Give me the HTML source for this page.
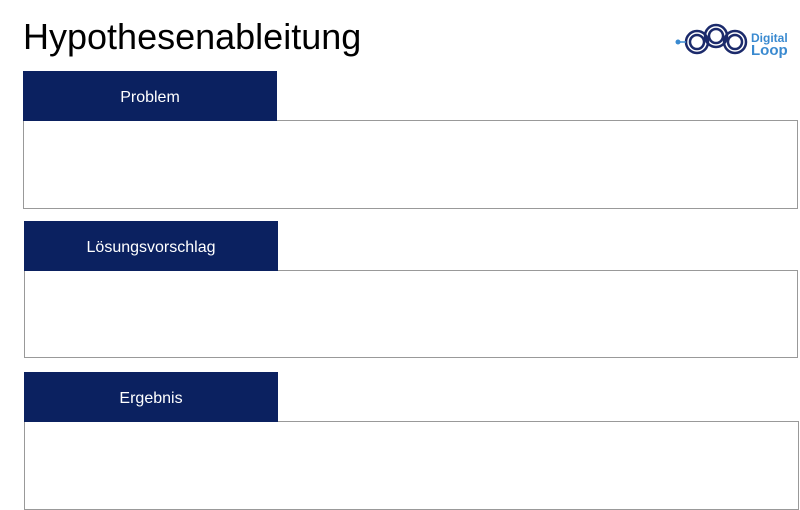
<!DOCTYPE html>
<html><head><style>
body{margin:0;width:800px;height:510px;background:#fff;position:relative;overflow:hidden;font-family:"Liberation Sans",sans-serif}
.t{position:absolute;left:23px;top:16px;font-size:36px;color:#000}
.h{position:absolute;background:#0b2160;color:#fff;font-size:16px;text-align:center;line-height:53px;width:254px;height:50px}
.b{position:absolute;border:1px solid #999;box-sizing:border-box}
</style></head><body>
<div class="t">Hypothesenableitung</div>
<svg style="position:absolute;left:672px;top:18px" width="128" height="42" viewBox="0 0 128 42">
<g fill="none" stroke="#1b2a6b" stroke-width="2.5">
<circle cx="25" cy="24" r="11"/><circle cx="44" cy="18" r="11"/><circle cx="63" cy="24" r="11"/>
<circle cx="25" cy="24" r="7"/><circle cx="44" cy="18" r="7"/><circle cx="63" cy="24" r="7"/>
</g>
<line x1="7" y1="24" x2="14" y2="24" stroke="#3a8ad0" stroke-width="1.5"/>
<circle cx="6" cy="24" r="2.5" fill="#3a8ad0"/>
<text x="79" y="24" font-size="12" font-weight="bold" fill="#3a8ad0" font-family="Liberation Sans">Digital</text>
<text x="79" y="37" font-size="15" font-weight="bold" fill="#3a8ad0" font-family="Liberation Sans">Loop</text>
</svg>
<div class="b" style="left:23px;top:120px;width:775px;height:89px"></div>
<div class="h" style="left:23px;top:71px">Problem</div>
<div class="b" style="left:24px;top:270px;width:774px;height:88px"></div>
<div class="h" style="left:24px;top:221px">Lösungsvorschlag</div>
<div class="b" style="left:24px;top:421px;width:775px;height:89px"></div>
<div class="h" style="left:24px;top:372px">Ergebnis</div>
</body></html>
